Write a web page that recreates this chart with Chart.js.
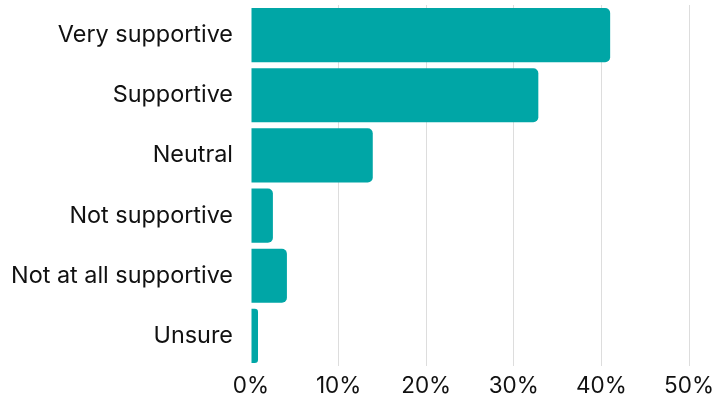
<!DOCTYPE html>
<html>
<head>
<meta charset="utf-8">
<script src="https://cdn.jsdelivr.net/npm/chart.js@4/dist/chart.umd.min.js"></script>
<style>
  html, body { margin: 0; padding: 0; background: #ffffff; }
  #wrap { width: 713px; height: 400px; position: relative; }
</style>
</head>
<body>
<div id="wrap"><canvas id="chart"></canvas></div>
<script>
// Survey responses: share of respondents per level of support
const categories = ["Very supportive", "Supportive", "Neutral", "Not supportive", "Not at all supportive", "Unsure"];
const shares = [41.0, 32.8, 13.9, 2.5, 4.1, 0.8];
const tickValues = [0, 10, 20, 30, 40, 50];

const FONT = "Inter, 'Noto Sans', sans-serif";

new Chart(document.getElementById("chart"), {
  type: "bar",
  data: {
    labels: categories,
    datasets: [{
      data: shares,
      backgroundColor: "#00A6A6",
      borderRadius: 5,
      borderSkipped: "start",
      barPercentage: 0.9,
      categoryPercentage: 1.0
    }]
  },
  options: {
    indexAxis: "y",
    responsive: true,
    maintainAspectRatio: false,
    animation: false,
    layout: { padding: { top: 5, right: 24, left: 0, bottom: 0 } },
    plugins: { legend: { display: false }, tooltip: { enabled: false } },
    scales: {
      x: {
        min: 0,
        max: 50,
        afterBuildTicks: (axis) => { axis.ticks = tickValues.map(v => ({ value: v })); },
        afterFit: (axis) => {
          axis.height = 34;
          axis.paddingLeft = 0;
          axis.paddingRight = 0;
        },
        grid: {
          color: (ctx) => ctx.tick && ctx.tick.value === 0 ? "rgba(0,0,0,0)" : "#dddddd",
          drawTicks: false,
          lineWidth: 1
        },
        border: { display: false },
        ticks: {
          color: "#111111",
          padding: 7,
          font: { family: FONT, size: 22.5 },
          callback: (v) => v + "%"
        }
      },
      y: {
        afterFit: (axis) => {
          axis.width = 251;
          axis.paddingTop = 0;
          axis.paddingBottom = 0;
        },
        grid: { display: false, drawTicks: false },
        border: { display: false },
        ticks: {
          color: "#111111",
          padding: 18,
          font: { family: FONT, size: 23.4 }
        }
      }
    }
  }
});
</script>
</body>
</html>
